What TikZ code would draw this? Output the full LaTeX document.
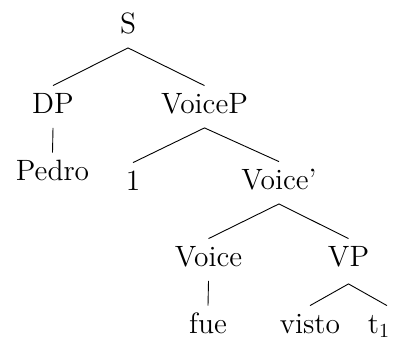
\documentclass[tikz,border=0pt]{standalone}
\begin{document}
\begin{tikzpicture}[x=0.5pt,y=-0.5pt,
  lbl/.style={anchor=base,inner sep=2pt,text height=11.5pt,text depth=5.25pt,font=\fontsize{14.7}{17}\selectfont},
  br/.style={line width=0.45pt}]
\useasboundingbox (0,0) rectangle (395,337);
\node[lbl] (S) at (128,33) {S};
\node[lbl] (DP) at (53,113) {DP};
\node[lbl] (VoiceP) at (204.5,113) {VoiceP};
\node[lbl] (Pedro) at (52.5,180) {Pedro};
\node[lbl] (one) at (133,190) {1};
\node[lbl] (Voicebar) at (279,189) {Voice'};
\node[lbl] (Voice) at (208.5,266) {Voice};
\node[lbl] (VP) at (348.5,266) {VP};
\node[lbl] (fue) at (208,333) {fue};
\node[lbl] (visto) at (310,333) {visto};
\node[lbl,inner xsep=0pt] (t) at (379,333) {t$_1$};
\draw[br] (DP.north) -- (S.south) -- (VoiceP.north);
\draw[br] (DP.south) -- (Pedro.north);
\draw[br] (one.north) -- (VoiceP.south) -- (Voicebar.north);
\draw[br] (Voice.north) -- (Voicebar.south) -- (VP.north);
\draw[br] (Voice.south) -- (fue.north);
\draw[br] (visto.north) -- ([yshift=-1.5pt]VP.south) -- ([xshift=4pt]t.north);
\end{tikzpicture}
\end{document}
